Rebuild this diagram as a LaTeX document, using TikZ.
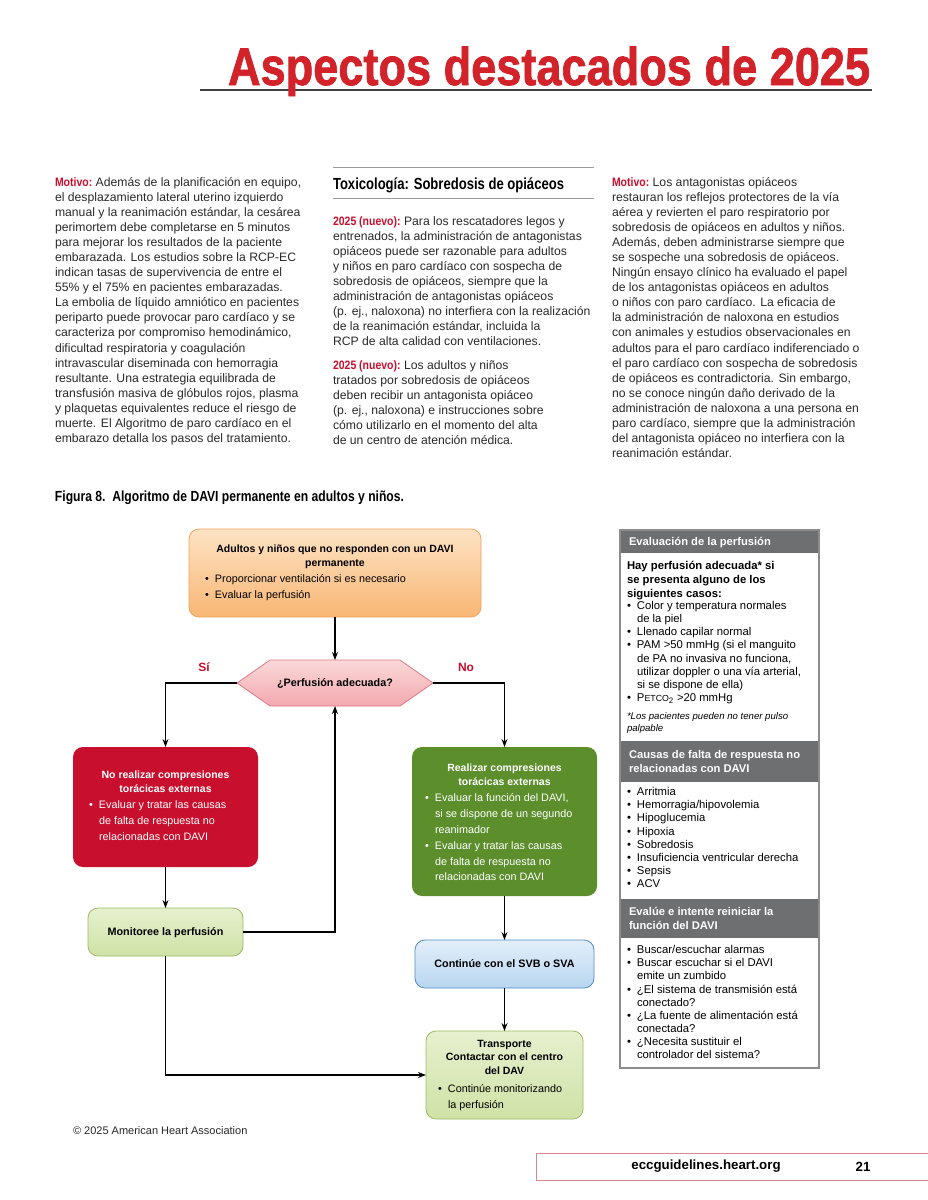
\documentclass[tikz,border=0pt]{standalone}
\usepackage{fontspec}
\setmainfont{Liberation Sans}
\newfontfamily\heavyfont[BoldFeatures={FakeBold=1.5}]{Liberation Sans}
\usetikzlibrary{arrows.meta}
\definecolor{titlered}{HTML}{D2232A}
\definecolor{motred}{HTML}{C8102E}
\definecolor{bodytext}{HTML}{2A2A2A}
\definecolor{rulegray}{HTML}{9A9A9A}
\definecolor{panelgray}{HTML}{6E6F71}
\definecolor{panelborder}{HTML}{8C8C8C}
\definecolor{orangetop}{HTML}{FDE3C4}
\definecolor{orangebot}{HTML}{F8B674}
\definecolor{orangeline}{HTML}{EFA45A}
\definecolor{pinktop}{HTML}{FBD8D8}
\definecolor{pinkbot}{HTML}{F2A9AF}
\definecolor{pinkline}{HTML}{E07A86}
\definecolor{redbox}{HTML}{C8102E}
\definecolor{greenbox}{HTML}{5C8F2C}
\definecolor{lgtop}{HTML}{E6F0CF}
\definecolor{lgbot}{HTML}{CFE2A6}
\definecolor{lgline}{HTML}{9DBB62}
\definecolor{bltop}{HTML}{E3EFFA}
\definecolor{blbot}{HTML}{B8D6F0}
\definecolor{blline}{HTML}{4F8CC9}
\definecolor{footline}{HTML}{D9868C}
\newcommand\lbl[1]{{\color{motred}\bfseries\scalebox{0.86}[1]{#1}}}
\newcommand\bitem{\makebox[10pt][l]{\textbullet}}
\newcommand\bcont{\hspace*{10pt}}
\newcommand\capbox[3]{\resizebox{#1}{#2}{\raisebox{0pt}[0.716em][0pt]{#3}}}
\begin{document}
\begin{tikzpicture}[x=1pt,y=-1pt,
  every node/.style={inner sep=0pt, outer sep=0pt},
  body/.style={anchor=north west, align=left, font=\fontsize{12.2}{15.05}\selectfont, text=bodytext},
  fbox/.style={rounded corners=10pt, line width=0.8pt},
  arr/.style={-{Stealth[length=8pt,width=6pt]}, line width=1.1pt, black},
  fctitle/.style={align=center, font=\fontsize{10.5}{13.5}\selectfont\bfseries},
  fcbody/.style={anchor=north west, align=left, font=\fontsize{10.8}{15.8}\selectfont},
  ptext/.style={anchor=north west, align=left, font=\fontsize{11.3}{13.1}\selectfont, text=black},
  phead/.style={anchor=north west, align=left, font=\fontsize{11.2}{14}\selectfont\bfseries, text=white},
  yn/.style={font=\fontsize{12}{12}\selectfont\bfseries, text=motred}
]
\useasboundingbox[fill=white] (0,0) rectangle (927,1200);

% ---------- title ----------
\draw[line width=1.2pt, black!75] (200,90) -- (872,90);
\node[anchor=base west, text=titlered] (title) at (228,85)
  {\capbox{642pt}{38pt}{\heavyfont\bfseries Aspectos destacados de 2025}};

% ---------- column 1 ----------
\node[body] (col1) at (55,177.5) {\lbl{Motivo:} Además de la planificación en equipo,\\
el desplazamiento lateral uterino izquierdo\\
manual y la reanimación estándar, la cesárea\\
perimortem debe completarse en 5 minutos\\
para mejorar los resultados de la paciente\\
embarazada. Los estudios sobre la RCP-EC\\
indican tasas de supervivencia de entre el\\
55\% y el 75\% en pacientes embarazadas.\\
La embolia de líquido amniótico en pacientes\\
periparto puede provocar paro cardíaco y se\\
caracteriza por compromiso hemodinámico,\\
dificultad respiratoria y coagulación\\
intravascular diseminada con hemorragia\\
resultante. Una estrategia equilibrada de\\
transfusión masiva de glóbulos rojos, plasma\\
y plaquetas equivalentes reduce el riesgo de\\
muerte. El Algoritmo de paro cardíaco en el\\
embarazo detalla los pasos del tratamiento.};

% ---------- column 2 ----------
\draw[line width=1pt, rulegray] (333,167) -- (594,167);
\draw[line width=1pt, rulegray] (333,198) -- (594,198);
\node[anchor=base west, text=black] (toxhead) at (333,189)
  {\capbox{231pt}{11.5pt}{\bfseries Toxicología: Sobredosis de opiáceos}};
\node[body] (col2a) at (333,216.5) {\lbl{2025 (nuevo):} Para los rescatadores legos y\\
entrenados, la administración de antagonistas\\
opiáceos puede ser razonable para adultos\\
y niños en paro cardíaco con sospecha de\\
sobredosis de opiáceos, siempre que la\\
administración de antagonistas opiáceos\\
(p. ej., naloxona) no interfiera con la realización\\
de la reanimación estándar, incluida la\\
RCP de alta calidad con ventilaciones.};
\node[body] (col2b) at (333,360.5) {\lbl{2025 (nuevo):} Los adultos y niños\\
tratados por sobredosis de opiáceos\\
deben recibir un antagonista opiáceo\\
(p. ej., naloxona) e instrucciones sobre\\
cómo utilizarlo en el momento del alta\\
de un centro de atención médica.};

% ---------- column 3 ----------
\node[body] (col3) at (612,177.5) {\lbl{Motivo:} Los antagonistas opiáceos\\
restauran los reflejos protectores de la vía\\
aérea y revierten el paro respiratorio por\\
sobredosis de opiáceos en adultos y niños.\\
Además, deben administrarse siempre que\\
se sospeche una sobredosis de opiáceos.\\
Ningún ensayo clínico ha evaluado el papel\\
de los antagonistas opiáceos en adultos\\
o niños con paro cardíaco. La eficacia de\\
la administración de naloxona en estudios\\
con animales y estudios observacionales en\\
adultos para el paro cardíaco indiferenciado o\\
el paro cardíaco con sospecha de sobredosis\\
de opiáceos es contradictoria. Sin embargo,\\
no se conoce ningún daño derivado de la\\
administración de naloxona a una persona en\\
paro cardíaco, siempre que la administración\\
del antagonista opiáceo no interfiera con la\\
reanimación estándar.};

% ---------- caption ----------
\node[anchor=base west, text=black] (caption) at (55,501)
  {\capbox{349pt}{10.5pt}{\bfseries Figura 8.\ \ Algoritmo de DAVI permanente en adultos y niños.}};

% ---------- flowchart boxes ----------
\node[fbox, draw=orangeline, top color=orangetop, bottom color=orangebot,
      minimum width=292pt, minimum height=88pt] (start) at (335,573) {};
\node[fctitle, anchor=north] (startt) at (335,545) {Adultos y niños que no responden con un DAVI\\permanente};
\node[fcbody] (startb) at (205,575) {\bitem Proporcionar ventilación si es necesario\\\bitem Evaluar la perfusión};

\shade[top color=pinktop, bottom color=pinkbot, draw=pinkline, line width=0.8pt]
  (237,683) -- (270,660) -- (400,660) -- (433,683) -- (400,706) -- (270,706) -- cycle;
\node[minimum width=196pt, minimum height=46pt, font=\fontsize{10.8}{12}\selectfont\bfseries] (hex) at (335,683) {¿Perfusión adecuada?};
\node[yn] (si) at (204,667) {Sí};
\node[yn] (no) at (466,667) {No};

\node[fbox, fill=redbox, minimum width=185pt, minimum height=120pt] (red) at (165.5,807) {};
\node[fctitle, anchor=north, text=white] (redt) at (165.5,771) {No realizar compresiones\\torácicas externas};
\node[fcbody, text=white] (redb) at (89,801) {\bitem Evaluar y tratar las causas\\\bcont de falta de respuesta no\\\bcont relacionadas con DAVI};

\node[fbox, draw=lgline, top color=lgtop, bottom color=lgbot,
      minimum width=155pt, minimum height=48pt] (mon) at (165.5,932) {};
\node[font=\fontsize{10.8}{12}\selectfont\bfseries] (mont) at (165.5,933) {Monitoree la perfusión};

\node[fbox, fill=greenbox, minimum width=185pt, minimum height=149pt] (green) at (504.5,821.5) {};
\node[fctitle, anchor=north, text=white] (greent) at (504.5,764) {Realizar compresiones\\torácicas externas};
\node[fcbody, text=white] (greenb) at (425,794) {\bitem Evaluar la función del DAVI,\\\bcont si se dispone de un segundo\\\bcont reanimador\\\bitem Evaluar y tratar las causas\\\bcont de falta de respuesta no\\\bcont relacionadas con DAVI};

\node[fbox, draw=blline, top color=bltop, bottom color=blbot,
      minimum width=179pt, minimum height=48pt] (blue) at (504.5,964) {};
\node[font=\fontsize{10.8}{12}\selectfont\bfseries] (bluet) at (504.5,964) {Continúe con el SVB o SVA};

\node[fbox, draw=lgline, top color=lgtop, bottom color=lgbot,
      minimum width=157pt, minimum height=88pt] (trans) at (504.5,1075) {};
\node[fctitle, anchor=north] (transt) at (504.5,1040) {Transporte\\Contactar con el centro\\del DAV};
\node[fcbody] (transb) at (438,1085) {\bitem Continúe monitorizando\\\bcont la perfusión};

% ---------- connectors ----------
\draw[arr] (start.south) -- (hex.north);
\draw[arr] (hex.west) -| (red.north);
\draw[arr] (hex.east) -| (green.north);
\draw[arr] (red.south) -- (mon.north);
\draw[arr] (mon.east) -| (hex.south);
\draw[arr] (green.south) -- (blue.north);
\draw[arr] (blue.south) -- (trans.north);
\draw[arr] (mon.south) |- (trans.west);

% ---------- right panel ----------
\fill[panelgray] (620,530) rectangle (819,553);
\fill[panelgray] (620,741) rectangle (819,782);
\fill[panelgray] (620,899) rectangle (819,938);
\draw[panelborder, line width=1.2pt] (620,530) rectangle (819,1068);
\node[phead] (ph1) at (629,537) {Evaluación de la perfusión};
\node[ptext, font=\fontsize{11.3}{14}\selectfont\bfseries] (pb1a) at (627,561.5) {Hay perfusión adecuada* si\\se presenta alguno de los\\siguientes casos:};
\node[ptext] (pb1b) at (627,601.5) {\bitem Color y temperatura normales\\\bcont de la piel\\\bitem Llenado capilar normal\\\bitem PAM >50 mmHg (si el manguito\\\bcont de PA no invasiva no funciona,\\\bcont utilizar doppler o una vía arterial,\\\bcont si se dispone de ella)\\\bitem P{\fontsize{8.8}{10}\selectfont ETCO}\textsubscript{2} >20 mmHg};
\node[ptext, font=\fontsize{9.6}{12}\selectfont\itshape] (pb1c) at (627,712.5) {*Los pacientes pueden no tener pulso\\palpable};
\node[phead] (ph2) at (629,750) {Causas de falta de respuesta no\\relacionadas con DAVI};
\node[ptext] (pb2) at (627,787.5) {\bitem Arritmia\\\bitem Hemorragia/hipovolemia\\\bitem Hipoglucemia\\\bitem Hipoxia\\\bitem Sobredosis\\\bitem Insuficiencia ventricular derecha\\\bitem Sepsis\\\bitem ACV};
\node[phead] (ph3) at (629,907) {Evalúe e intente reiniciar la\\función del DAVI};
\node[ptext] (pb3) at (627,945.5) {\bitem Buscar/escuchar alarmas\\\bitem Buscar escuchar si el DAVI\\\bcont emite un zumbido\\\bitem ¿El sistema de transmisión está\\\bcont conectado?\\\bitem ¿La fuente de alimentación está\\\bcont conectada?\\\bitem ¿Necesita sustituir el\\\bcont controlador del sistema?};

% ---------- footer ----------
\node[anchor=west, font=\fontsize{11}{12}\selectfont, text=bodytext] (copy) at (73,1131) {© 2025 American Heart Association};
\draw[footline, line width=1pt] (940,1153) -- (536,1153) -- (536,1180) -- (940,1180);
\node[font=\fontsize{13.3}{14}\selectfont\bfseries] (url) at (706,1166.5) {eccguidelines.heart.org};
\node[font=\fontsize{13.3}{14}\selectfont\bfseries] (pagenum) at (863,1166.5) {21};
\end{tikzpicture}
\end{document}
